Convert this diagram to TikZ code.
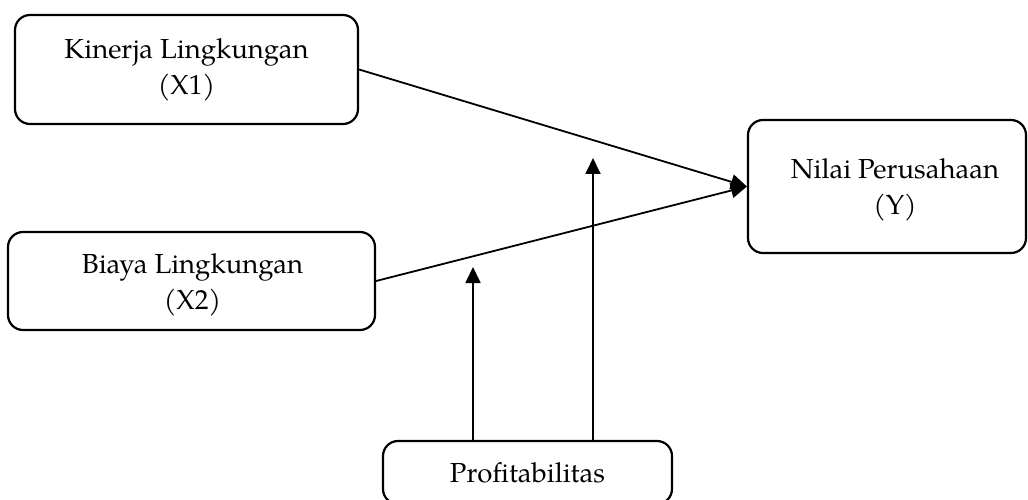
\documentclass[tikz,border=0pt]{standalone}
\usepackage{fontspec}
\setmainfont{TeX Gyre Pagella}
\usetikzlibrary{arrows.meta}
\begin{document}
\begin{tikzpicture}[x=1pt,y=1pt,
  varfont/.style={font=\fontsize{27.5}{36}\selectfont, align=center, inner sep=0pt},
  varbox/.style={draw, line width=2.2pt, rounded corners=15pt, varfont},
  conn/.style={line width=1.8pt, -{Triangle[length=16pt,width=15pt]}}]
\useasboundingbox (0,0) rectangle (1028,499);
\clip (0,0) rectangle (1028,499);
\node[varbox, minimum width=343pt, minimum height=109pt] (X1) at (186.5,429.5)
  {Kinerja Lingkungan\\(X1)};
\node[varbox, minimum width=367pt, minimum height=98pt] (X2) at (191.5,218) {};
\node[varfont] (X2text) at (192.5,214.5) {Biaya Lingkungan\\(X2)};
\node[varbox, minimum width=278pt, minimum height=133pt] (Y) at (887,312.5) {};
\node[varfont] (Ytext) at (895,309.5) {Nilai Perusahaan\\(Y)};
\node[varbox, minimum width=289pt, minimum height=63pt] (P) at (527.5,26.5)
  {Profitabilitas};
\coordinate (m1) at (593,341);
\coordinate (m2) at (473,232);
\coordinate (p1) at (593,57);
\coordinate (p2) at (473,57);
\draw[conn] (X1.east) -- (Y.west);
\draw[conn] (X2.east) -- (Y.west);
\draw[conn] (p1) -- (m1);
\draw[conn] (p2) -- (m2);
\end{tikzpicture}
\end{document}
